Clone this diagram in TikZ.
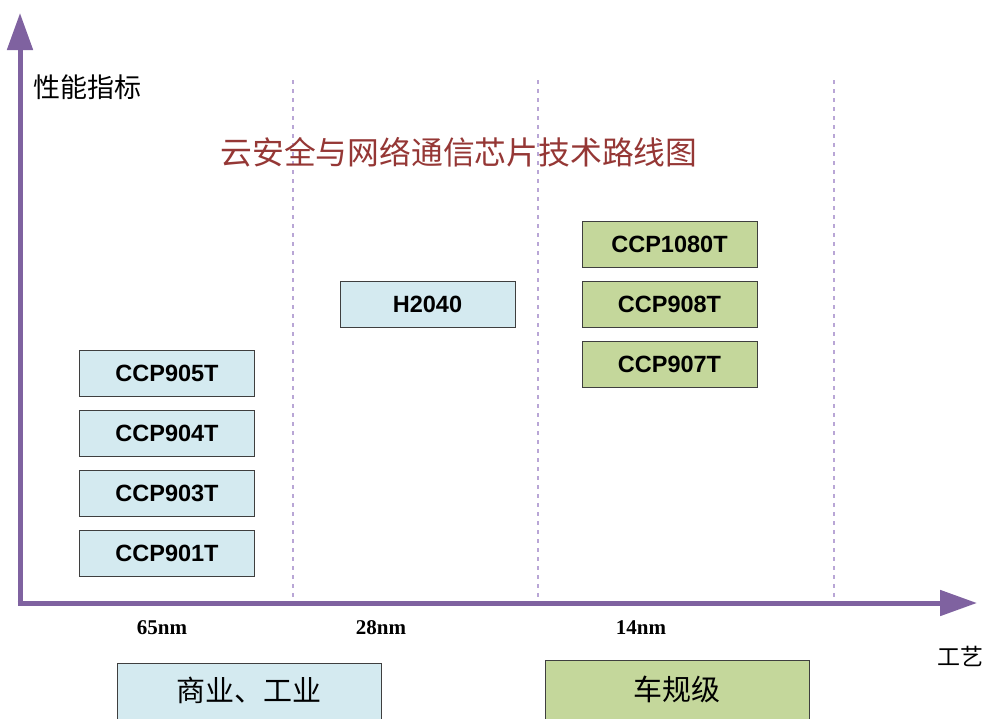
\documentclass[tikz,border=0pt]{standalone}
\usepackage{fontspec}
\setmainfont{Liberation Serif}
\newfontfamily\cjk{Noto Sans CJK SC}
\newfontfamily\boxfont{Liberation Sans}
\usetikzlibrary{arrows.meta}
\definecolor{axiscol}{HTML}{7F62A0}
\definecolor{dashcol}{HTML}{B9A6D6}
\definecolor{titlecol}{HTML}{953735}
\definecolor{bluefill}{HTML}{D4EAF0}
\definecolor{greenfill}{HTML}{C4D79B}
\definecolor{edgecol}{HTML}{3F3F3F}
\tikzset{
  axisline/.style={line width=5pt, draw=axiscol, -{Triangle[length=37pt,width=25pt]}},
  divider/.style={draw=dashcol, line width=2.5pt, dash pattern=on 4pt off 5pt},
  chip/.style={draw=edgecol, line width=0.9pt, minimum width=175pt, minimum height=46pt, inner sep=0pt, font=\boxfont\bfseries\fontsize{23.5}{26}\selectfont},
  bluechip/.style={chip, fill=bluefill},
  greenchip/.style={chip, fill=greenfill},
  tick/.style={font=\fontsize{21}{24}\selectfont\bfseries, inner sep=0pt},
  grade/.style={draw=edgecol, line width=0.9pt, minimum width=264pt, minimum height=70pt, inner sep=0pt, anchor=north west, font=\cjk\fontsize{29}{32}\selectfont, text height=22pt, text depth=16pt}
}
\begin{document}
\begin{tikzpicture}[x=1pt,y=-1pt]
\clip (0,0) rectangle (984,718);
\fill[white] (0,0) rectangle (984,718);
% dividers
\coordinate (d1t) at (293,80); \coordinate (d1b) at (293,603);
\coordinate (d2t) at (538,80); \coordinate (d2b) at (538,603);
\coordinate (d3t) at (834,80); \coordinate (d3b) at (834,603);
\draw[divider] (d1t) -- (d1b);
\draw[divider] (d2t) -- (d2b);
\draw[divider] (d3t) -- (d3b);
% axes
\coordinate (ybase) at (20,605.5);
\coordinate (ytip) at (20,13);
\coordinate (xbase) at (17.5,603);
\coordinate (xtip) at (977,603);
\draw[axisline] (ybase) -- (ytip);
\draw[axisline] (xbase) -- (xtip);
% labels
\node[font=\cjk\fontsize{27}{30}\selectfont, anchor=west, inner sep=0pt] (ylab) at (33,87) {性能指标};
\node[font=\cjk\fontsize{31.8}{34}\selectfont, text=titlecol, inner sep=0pt] (title) at (459,152) {云安全与网络通信芯片技术路线图};
\node[font=\cjk\fontsize{23}{26}\selectfont, anchor=east, inner sep=0pt] (xlab) at (984,656) {工艺};
\node[tick] (t65) at (162,628) {65nm};
\node[tick] (t28) at (381,628) {28nm};
\node[tick] (t14) at (641,628) {14nm};
% chips
\node[bluechip] (c905) at (167,373) {CCP905T};
\node[bluechip] (c904) at (167,433) {CCP904T};
\node[bluechip] (c903) at (167,493) {CCP903T};
\node[bluechip] (c901) at (167,553) {CCP901T};
\node[bluechip] (h2040) at (427.5,304) {H2040};
\node[greenchip] (c1080) at (669.5,244) {CCP1080T};
\node[greenchip] (c908) at (669.5,304) {CCP908T};
\node[greenchip] (c907) at (669.5,364) {CCP907T};
% grades
\node[grade, fill=bluefill] (biz) at (117,663) {商业、工业};
\node[grade, fill=greenfill, text depth=12pt] (car) at (545,660) {车规级};
\end{tikzpicture}
\end{document}
